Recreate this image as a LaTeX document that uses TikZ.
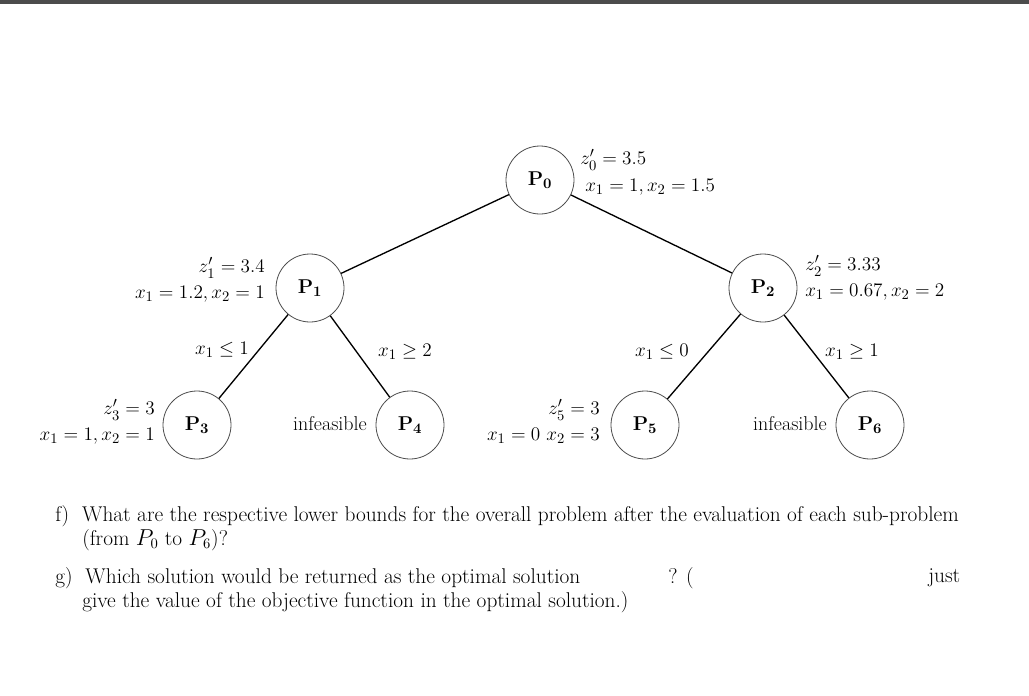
\documentclass[tikz,border=0pt]{standalone}
\usepackage{amsmath,amssymb}
\begin{document}
\begin{tikzpicture}[x=0.75pt,y=-0.75pt,
  pnode/.style={circle,draw=black!70,line width=0.6pt,minimum size=51pt,inner sep=0pt,font=\fontsize{15}{17}\selectfont\bfseries},
  edge/.style={line width=1pt},
  lab/.style={font=\fontsize{15}{17}\selectfont,inner sep=0pt},
  qtext/.style={font=\fontsize{16}{18}\selectfont,inner sep=0pt,anchor=west}]
\useasboundingbox (0,0) rectangle (1029,696);
\fill[black!70] (0,0) rectangle (1029,4);
\node[pnode] (p0) at (540,180) {P$_{\mathbf 0}$};
\node[pnode] (p1) at (310,288) {P$_{\mathbf 1}$};
\node[pnode] (p2) at (763,288) {P$_{\mathbf 2}$};
\node[pnode] (p3) at (197,425) {P$_{\mathbf 3}$};
\node[pnode] (p4) at (410,425) {P$_{\mathbf 4}$};
\node[pnode] (p5) at (645,425) {P$_{\mathbf 5}$};
\node[pnode] (p6) at (870,425) {P$_{\mathbf 6}$};
\draw[edge] (p0) -- (p1);
\draw[edge] (p0) -- (p2);
\draw[edge] (p1) -- (p3);
\draw[edge] (p1) -- (p4);
\draw[edge] (p2) -- (p5);
\draw[edge] (p2) -- (p6);
\node[lab,anchor=west] (l0a) at (580,160) {$z_0' = 3.5$};
\node[lab,anchor=west] (l0b) at (585,187) {$x_1 = 1, x_2 = 1.5$};
\node[lab,anchor=east] (l1a) at (265,268) {$z_1' = 3.4$};
\node[lab,anchor=east] (l1b) at (265,294) {$x_1 = 1.2, x_2 = 1$};
\node[lab,anchor=west] (l2a) at (805,266) {$z_2' = 3.33$};
\node[lab,anchor=west] (l2b) at (805,292) {$x_1 = 0.67, x_2 = 2$};
\node[lab] (b1) at (222,350) {$x_1 \le 1$};
\node[lab] (b2) at (405,352) {$x_1 \ge 2$};
\node[lab] (b3) at (662,352) {$x_1 \le 0$};
\node[lab] (b4) at (852,352) {$x_1 \ge 1$};
\node[lab,anchor=east] (l3a) at (155,410) {$z_3' = 3$};
\node[lab,anchor=east] (l3b) at (155,436) {$x_1 = 1, x_2 = 1$};
\node[lab] (i4) at (330,424) {infeasible};
\node[lab,anchor=east] (l5a) at (600,410) {$z_5' = 3$};
\node[lab,anchor=east] (l5b) at (600,436) {$x_1 = 0\ x_2 = 3$};
\node[lab] (i6) at (790,424) {infeasible};
\node[qtext] (f1) at (55,516) {f)\ \ What are the respective lower bounds for the overall problem after the evaluation of each sub-problem};
\node[qtext] (f2) at (82,540) {(from $P_0$ to $P_6$)?};
\node[qtext] (g1) at (55,578) {g)\ \ Which solution would be returned as the optimal solution};
\node[qtext] (g2) at (668,578) {? (};
\node[qtext] (g3) at (928,578) {just};
\node[qtext] (g4) at (82,602) {give the value of the objective function in the optimal solution.)};
\end{tikzpicture}
\end{document}
